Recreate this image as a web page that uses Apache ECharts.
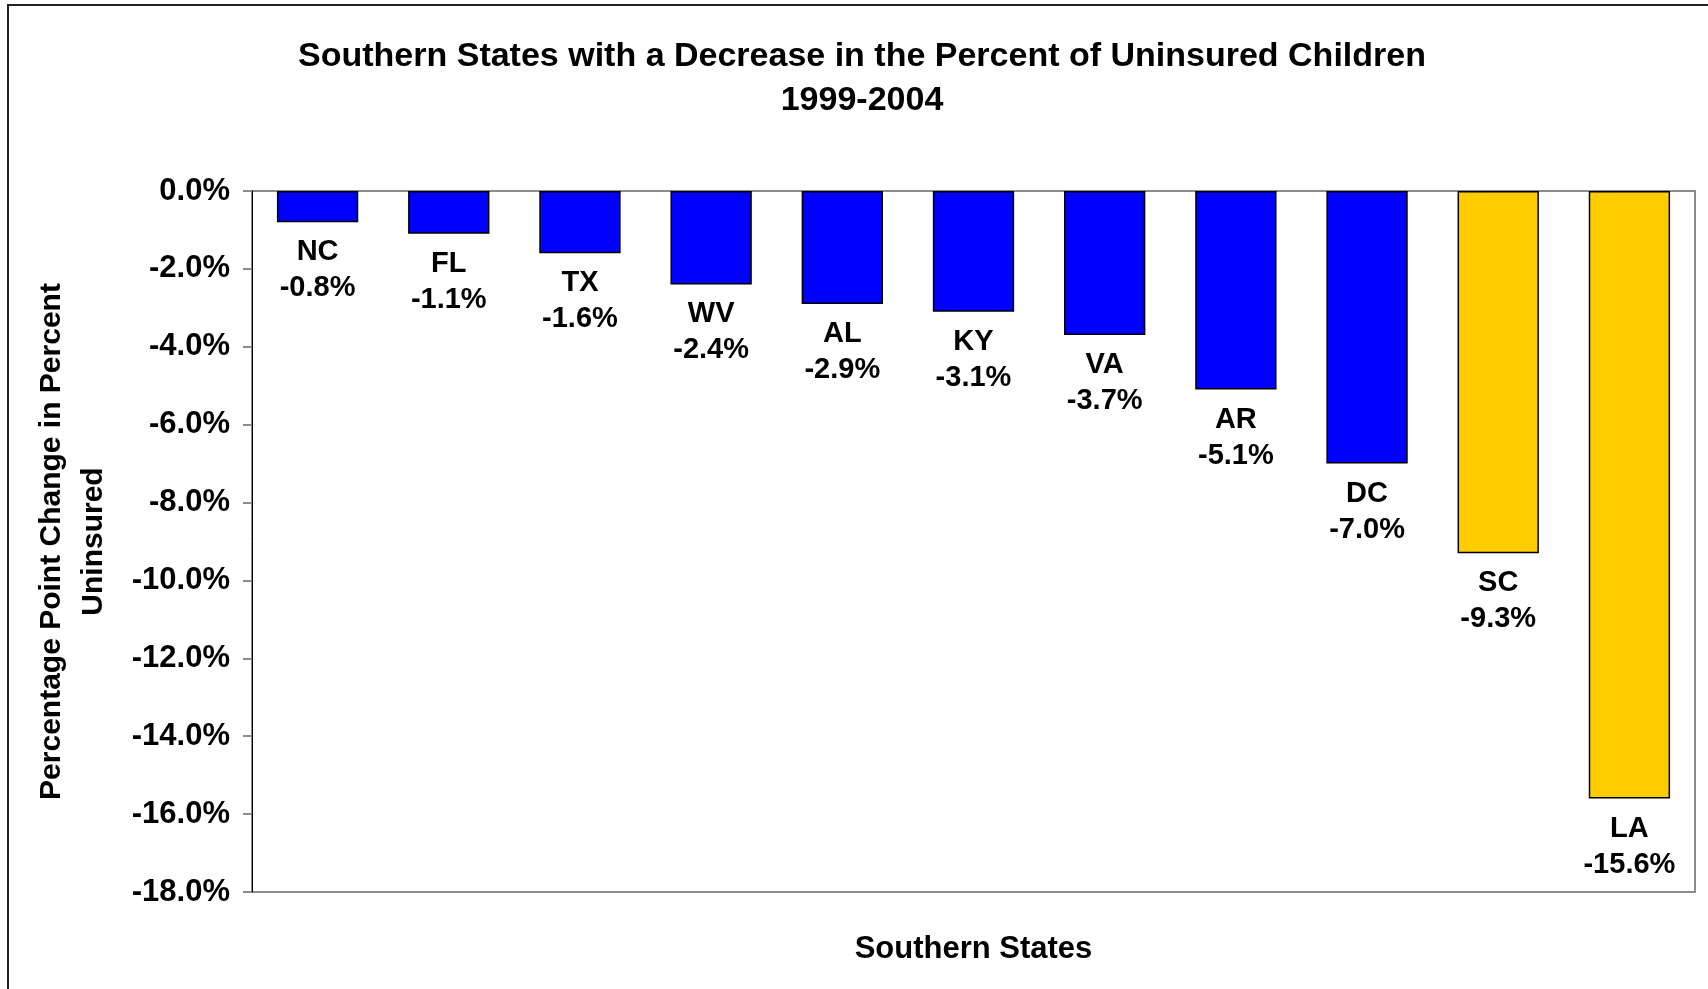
<!DOCTYPE html>
<html>
<head>
<meta charset="utf-8">
<script src="https://cdn.jsdelivr.net/npm/echarts@6/dist/echarts.min.js"></script>
<style>
html,body{margin:0;padding:0;background:#fff;}
#chart{width:1708px;height:989px;}
</style>
</head>
<body>
<div id="chart"></div>
<script>
var states = ['NC','FL','TX','WV','AL','KY','VA','AR','DC','SC','LA'];
var changes = [-0.8,-1.1,-1.6,-2.4,-2.9,-3.1,-3.7,-5.1,-7.0,-9.3,-15.6];
var barColors = ['#0000FF','#0000FF','#0000FF','#0000FF','#0000FF','#0000FF','#0000FF','#0000FF','#0000FF','#FFCC00','#FFCC00'];
var yTicks = [0,-2,-4,-6,-8,-10,-12,-14,-16,-18];

var FONT = '"Liberation Sans", Arial, sans-serif';
var chart = echarts.init(document.getElementById('chart'));
chart.setOption({
  backgroundColor: '#fff',
  animation: false,
  title: {
    text: 'Southern States with a Decrease in the Percent of Uninsured Children\n1999-2004',
    left: 857,
    top: 30,
    textAlign: 'center',
    textStyle: { fontFamily: FONT, fontWeight: 'bold', fontSize: 34, lineHeight: 44, color: '#000' }
  },
  graphic: [{
    type: 'rect',
    shape: { x: 8, y: 5, width: 1720, height: 1000 },
    style: { fill: 'none', stroke: '#222', lineWidth: 2 },
    silent: true, z: -1
  }],
  grid: {
    left: 252, top: 191, right: 13, bottom: 97,
    containLabel: false,
    outerBoundsMode: 'none',
    show: true, borderColor: '#8c8c8c', borderWidth: 2, backgroundColor: 'transparent'
  },
  xAxis: {
    type: 'category',
    data: states,
    position: 'bottom',
    axisLine: { show: false, onZero: false },
    axisTick: { show: false },
    axisLabel: { show: false },
    name: 'Southern States',
    nameLocation: 'middle',
    nameGap: 42,
    nameTextStyle: { fontFamily: FONT, fontWeight: 'bold', fontSize: 31, color: '#000' }
  },
  yAxis: {
    type: 'value',
    min: -18, max: 0, interval: 2,
    splitLine: { show: false },
    axisLine: { show: true, lineStyle: { color: '#000', width: 1 } },
    axisTick: { show: true, length: 9, lineStyle: { color: '#8c8c8c', width: 2 } },
    axisLabel: {
      margin: 22,
      fontFamily: FONT, fontWeight: 'bold', fontSize: 31, color: '#000',
      formatter: function (v) { return v.toFixed(1) + '%'; }
    },
    name: 'Percentage Point Change in Percent\nUninsured',
    nameLocation: 'middle',
    nameRotate: 90,
    nameGap: 137,
    nameTextStyle: { fontFamily: FONT, fontWeight: 'bold', fontSize: 30, lineHeight: 42, color: '#000' }
  },
  series: [{
    type: 'bar',
    barWidth: '62%',
    data: changes.map(function (v, i) {
      return { value: v, itemStyle: { color: barColors[i] } };
    }),
    itemStyle: { borderColor: '#000', borderWidth: 1.5 },
    label: {
      show: true,
      position: 'bottom',
      distance: 12,
      fontFamily: FONT, fontWeight: 'bold', fontSize: 29, lineHeight: 36, color: '#000',
      formatter: function (p) { return p.name + '\n' + p.value.toFixed(1) + '%'; }
    }
  }]
});
</script>
</body>
</html>
